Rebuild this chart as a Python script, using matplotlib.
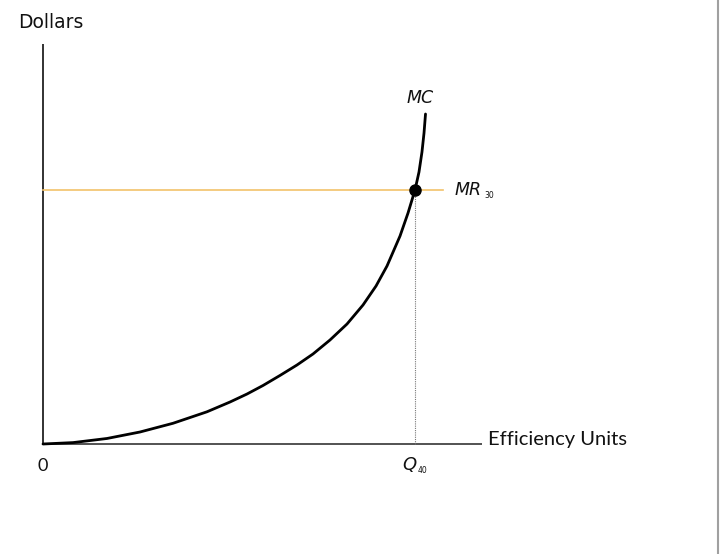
import matplotlib.pyplot as plt
import numpy as np

# MC curve (quantity, dollars)
mc_q = [0, 3.23, 6.88, 10.43, 13.98, 17.63, 20.11, 21.94, 23.66, 25.48, 27.31, 29.03,
        30.86, 32.69, 34.41, 35.81, 36.99, 38.39, 39.25, 40.0, 40.43, 40.75, 40.97, 41.13]
mc_p = [0, 0.35, 1.38, 3.0, 5.18, 8.05, 10.5, 12.5, 14.63, 17.13, 19.75, 22.5,
        26.0, 30.0, 34.75, 39.5, 44.5, 52.0, 57.75, 63.5, 68.0, 73.0, 77.75, 82.5]

mr_level = 63.5
q_star = 40.0
mr_end = 43.0
x_axis_end = 47.2
y_axis_top = 100

# pixel scale used to place the axes
px_x = 9.3
px_y = 4.0

fig = plt.figure(figsize=(7.2, 5.54), dpi=100)
ax = fig.add_axes([0, 0, 1, 1])
ax.set_xlim(-43 / px_x, (720 - 43) / px_x)
ax.set_ylim(-(554 - 444) / px_y, 444 / px_y)
ax.axis('off')

# axes
ax.plot([0, 0], [0, y_axis_top], color='#222222', lw=1.3, solid_capstyle='butt')
ax.plot([0, x_axis_end], [0, 0], color='#444444', lw=1.3, solid_capstyle='butt')

# MR line and dotted drop to Q
ax.plot([0, mr_end], [mr_level, mr_level], color='#f2c26b', lw=1.2)
ax.plot([q_star, q_star], [0, mr_level], color='#777777', lw=0.8, ls=(0, (1, 1)))

# MC curve
ax.plot(mc_q, mc_p, color='black', lw=2.0, solid_capstyle='round', solid_joinstyle='round')
ax.plot([q_star], [mr_level], 'o', color='black', ms=8)

# labels
ax.text(-25 / px_x, 105.5, 'Dollars', fontsize=13.5, ha='left', va='center', color='#111111')
ax.text(47.9, 1.0, 'Efficiency Units', fontsize=14.5, family='Lato', ha='left', va='center',
        color='#111111')
ax.text(0, -5.5, '0', fontsize=13, family='Lato', ha='center', va='center', color='#111111')
ax.text(q_star + 0.15, -5.3, 'Q', fontsize=13, style='italic', ha='right', va='center',
        color='#111111')
ax.text(q_star + 0.3, -6.6, '40', fontsize=5.5, ha='left', va='center', color='#111111')
ax.text(40.6, 86.5, 'MC', fontsize=12.5, style='italic', ha='center', va='center', color='#111111')
ax.text(44.3, mr_level, 'MR', fontsize=12.5, style='italic', ha='left', va='center', color='#111111')
ax.text(47.5, mr_level - 1.5, '30', fontsize=5.5, ha='left', va='center', color='#111111')

# right frame edge
fig.add_artist(plt.Line2D([718 / 720, 718 / 720], [0, 1], color='#a0a0a0', lw=1.5,
                          transform=fig.transFigure))

fig.savefig('out.png', dpi=100)
